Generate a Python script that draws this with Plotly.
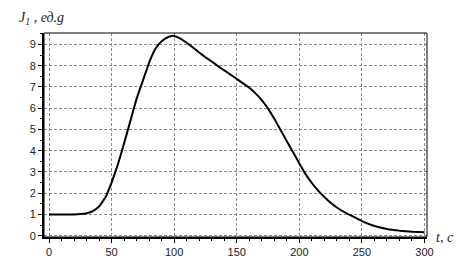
import plotly.graph_objects as go

t_vals = [0, 10, 20, 25, 30, 35, 40, 45, 50, 55, 60, 65, 70, 75, 80, 85, 90, 95, 98,
          100, 105, 110, 115, 120, 125, 130, 135, 140, 145, 150, 155, 160, 165, 170,
          175, 180, 185, 190, 195, 200, 205, 210, 215, 220, 225, 230, 235, 240, 250,
          260, 270, 280, 290, 300]
j_vals = [1.0, 1.0, 1.0, 1.02, 1.06, 1.16, 1.38, 1.8, 2.5, 3.35, 4.35, 5.4, 6.45, 7.3,
          8.15, 8.8, 9.15, 9.35, 9.4, 9.4, 9.28, 9.08, 8.86, 8.62, 8.4, 8.2, 7.98, 7.78,
          7.58, 7.38, 7.17, 6.96, 6.7, 6.38, 5.98, 5.5, 4.98, 4.45, 3.93, 3.4, 2.9,
          2.48, 2.12, 1.82, 1.55, 1.33, 1.14, 0.99, 0.69, 0.46, 0.32, 0.24, 0.19, 0.16]
x_ticks = [0, 50, 100, 150, 200, 250, 300]
y_ticks = [0, 1, 2, 3, 4, 5, 6, 7, 8, 9]

fig = go.Figure()
fig.add_trace(go.Scatter(x=t_vals, y=j_vals, mode="lines",
                         line=dict(color="black", width=2, shape="spline", smoothing=0.3),
                         hoverinfo="skip", showlegend=False))

grid = dict(showgrid=True, gridcolor="#8a8a8a", gridwidth=1, griddash="3px,2px")
tickfont = dict(family="Liberation Sans, Arial, sans-serif", size=11, color="#222")

fig.update_xaxes(range=[-4, 302], tickvals=x_ticks, ticks="outside", ticklen=4,
                 tickcolor="black", showline=True, linecolor="black", linewidth=2,
                 zeroline=False, tickfont=tickfont,
                 minor=dict(dtick=10, ticks="outside", ticklen=2, tickcolor="black", showgrid=False),
                 **grid)
fig.update_yaxes(range=[-0.06, 9.54], tickvals=y_ticks, ticks="outside", ticklen=4,
                 tickcolor="black", showline=True, linecolor="black", linewidth=2,
                 zeroline=False, tickfont=tickfont,
                 minor=dict(dtick=0.5, ticks="outside", ticklen=2, tickcolor="black", showgrid=False),
                 **grid)

fig.add_shape(type="rect", xref="paper", yref="paper", x0=0, y0=0, x1=1, y1=1,
              line=dict(color="black", width=1))

fig.add_annotation(xref="paper", yref="paper", x=-0.07, y=1.019, xanchor="left", yanchor="bottom",
                   text="<i>J<sub>1</sub> , ед.g</i>", showarrow=False,
                   font=dict(family="Liberation Serif, Times New Roman, serif", size=14, color="#222"))
fig.add_annotation(xref="paper", yref="paper", x=1.019, y=0.0, xanchor="left", yanchor="middle",
                   text="<i>t, с</i>", showarrow=False,
                   font=dict(family="Liberation Serif, Times New Roman, serif", size=14, color="#222"))

fig.update_layout(width=473, height=270, margin=dict(l=44, r=46, t=33, b=28),
                  paper_bgcolor="white", plot_bgcolor="white")

fig.write_html("out.html")
